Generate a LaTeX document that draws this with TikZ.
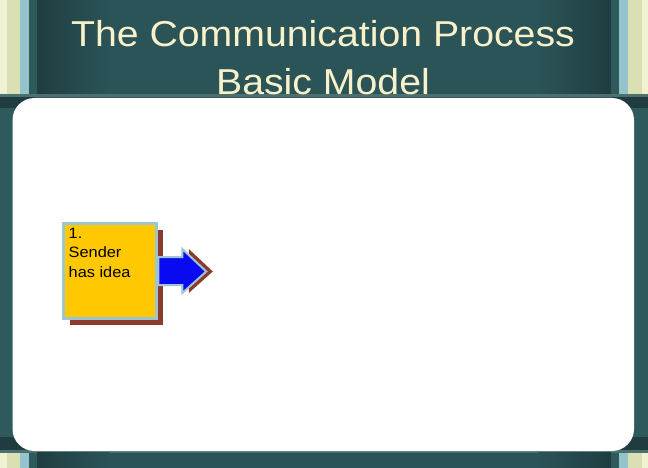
\documentclass[tikz,border=0pt]{standalone}
\usepackage{fontspec}
\setmainfont{Liberation Sans}
\usetikzlibrary{shadows}
\definecolor{teal0}{HTML}{2F5A5C}
\definecolor{tealband}{HTML}{2B5458}
\definecolor{tealdark}{HTML}{1F3D41}
\definecolor{cream}{HTML}{F1F1D4}
\definecolor{palegreen}{HTML}{DADFB4}
\definecolor{lightblue}{HTML}{95C3CB}
\definecolor{sepline}{HTML}{4D6F6E}
\definecolor{titletext}{HTML}{F8F1CA}
\definecolor{boxyellow}{HTML}{FFC800}
\definecolor{boxborder}{HTML}{9EC6D2}
\definecolor{shadowred}{HTML}{8B3A2E}
\definecolor{arrowblue}{HTML}{0A0AF0}
\tikzset{
  titlestyle/.style={text=titletext, font=\fontsize{36}{40}\selectfont, anchor=base, inner sep=0pt, xscale=1.09},
  ideabox/.style={draw=boxborder, line width=3pt, fill=boxyellow, minimum width=93pt, minimum height=95.5pt, inner sep=0pt, outer sep=0pt,
    drop shadow={shadow xshift=6.5pt, shadow yshift=-6.5pt, fill=shadowred, opacity=1}},
  boxtext/.style={font=\fontsize{15}{19.5}\selectfont, align=left, anchor=north west, inner sep=0pt, xscale=1.09},
  blockarrow/.style={fill=arrowblue, draw=boxborder, line width=2pt, line join=miter},
  arrowshadow/.style={fill=shadowred}
}
\begin{document}
\begin{tikzpicture}[x=1pt,y=-1pt]
\useasboundingbox (0,0) rectangle (648,468);
% base background
\fill[teal0] (0,0) rectangle (648,468);
% top band
\fill[tealband] (0,0) rectangle (648,94);
\shade[left color=tealdark, right color=tealband] (37,0) rectangle (110,94);
\shade[left color=tealband, right color=tealdark] (538,0) rectangle (611,94);
\fill[teal0] (29,0) rectangle (37,94);
\fill[teal0] (611,0) rectangle (619,94);
% left stripes top
\fill[cream] (0,0) rectangle (6.5,94);
\fill[palegreen] (6.5,0) rectangle (20,94);
\fill[lightblue] (20,0) rectangle (29,94);
% right stripes top
\fill[lightblue] (619,0) rectangle (628,94);
\fill[palegreen] (628,0) rectangle (641.5,94);
\fill[cream] (641.5,0) rectangle (648,94);
% separator lines top
\fill[sepline] (0,94) rectangle (648,97);
\fill[tealdark] (0,97) rectangle (648,108);
% bottom
\fill[tealdark] (0,437) rectangle (648,450);
\fill[sepline] (0,450) rectangle (648,452.5);
\fill[tealband] (0,452.5) rectangle (648,468);
\shade[left color=tealdark, right color=tealband] (37,452.5) rectangle (110,468);
\shade[left color=tealband, right color=tealdark] (538,452.5) rectangle (611,468);
\fill[teal0] (29,452.5) rectangle (37,468);
\fill[teal0] (611,452.5) rectangle (619,468);
\fill[cream] (0,452.5) rectangle (6.5,468);
\fill[palegreen] (6.5,452.5) rectangle (20,468);
\fill[lightblue] (20,452.5) rectangle (29,468);
\fill[lightblue] (619,452.5) rectangle (628,468);
\fill[palegreen] (628,452.5) rectangle (641.5,468);
\fill[cream] (641.5,452.5) rectangle (648,468);
% white panel
\fill[white, rounded corners=22pt] (12.5,98) rectangle (634,451);
% title
\node[titlestyle] (title1) at (323,47) {The Communication Process};
\node[titlestyle] (title2) at (323,95) {Basic Model};
% sender box
\node[ideabox] (box) at (110.3,270.75) {};
\node[boxtext] (boxlabel) at (68.5,227.5) {1.\\Sender\\has idea};
% block arrow with shadow
\fill[arrowshadow] ([shift={(8,-13.75)}]box.east) -- ++(24,0) -- ++(0,-8) -- ++(24,22.5) -- ++(-24,21.5) -- ++(0,-8) -- ++(-24,0) -- cycle;
\draw[blockarrow] ([shift={(1.5,-13.75)}]box.east) coordinate (arrowstart) -- ++(24,0) -- ++(0,-8) -- ++(24,22.5) coordinate (arrowtip) -- ++(-24,21.5) -- ++(0,-8) -- ++(-24,0) -- cycle;
\end{tikzpicture}
\end{document}
